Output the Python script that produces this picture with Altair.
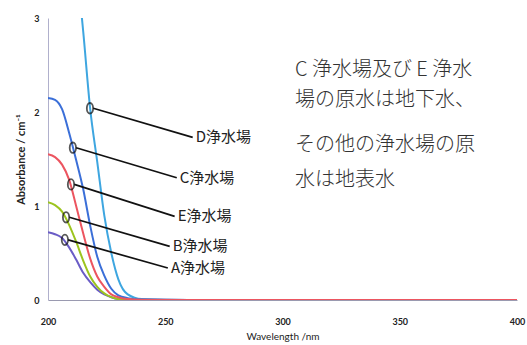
import altair as alt
import pandas as pd

# Absorbance spectra of raw water from five purification plants
wavelength = [200, 203, 206, 209, 212, 215, 218, 221, 224, 227, 230, 234, 240, 260, 300, 350, 400]
abs_A = [0.72, 0.70, 0.66, 0.56, 0.43, 0.29, 0.19, 0.11, 0.06, 0.03, 0.01, 0.003, 0, 0, 0, 0, 0]
abs_B = [1.04, 1.01, 0.94, 0.80, 0.62, 0.42, 0.25, 0.14, 0.07, 0.03, 0.01, 0.003, 0, 0, 0, 0, 0]
abs_C = [2.15, 2.13, 2.03, 1.78, 1.49, 1.18, 0.79, 0.46, 0.26, 0.12, 0.05, 0.02, 0.005, 0, 0, 0, 0]
abs_D = [6.0, 5.4, 4.8, 4.2, 3.6, 2.86, 2.03, 1.47, 0.90, 0.50, 0.22, 0.06, 0.01, 0, 0, 0, 0]
abs_E = [1.55, 1.52, 1.44, 1.28, 1.00, 0.71, 0.44, 0.25, 0.14, 0.06, 0.03, 0.01, 0.003, 0, 0, 0, 0]

plants = ["D浄水場", "C浄水場", "A浄水場", "B浄水場", "E浄水場"]
series = {"A浄水場": abs_A, "B浄水場": abs_B, "C浄水場": abs_C, "D浄水場": abs_D, "E浄水場": abs_E}
colors = ["#3ea6e0", "#3b6fd8", "#6a5cc6", "#9cc41e", "#ec5560"]

# Callout circles on each curve, leader line ends and label positions
call_plants = ["D浄水場", "C浄水場", "E浄水場", "B浄水場", "A浄水場"]
call_x = [217.9, 210.6, 209.8, 207.7, 207.2]
call_y = [2.04, 1.62, 1.23, 0.88, 0.64]
lead_end_x = [261.7, 254.9, 254.0, 251.9, 251.1]
label_x = [263.0, 256.2, 255.3, 253.2, 252.4]
label_y = [1.73, 1.30, 0.89, 0.57, 0.34]

# Note beside the plot
note_lines = ["C 浄水場及び E 浄水", "場の原水は地下水、", "その他の浄水場の原", "水は地表水"]
note_x = [305.3, 305.3, 305.3, 305.3]
note_y = [2.447, 2.128, 1.649, 1.277]

rows = []
for p in plants:
    for i, (w, a) in enumerate(zip(wavelength, series[p])):
        rows.append({"plant": p, "wl": w, "abs": a, "i": i})
spectra = pd.DataFrame(rows)

calls = pd.DataFrame({
    "plant": call_plants, "x": call_x, "y": call_y,
    "x0": [v + 1.4 for v in call_x], "x2": lead_end_x,
    "lx": label_x, "ly": label_y,
})
notes = pd.DataFrame({"t": note_lines, "x": note_x, "y": note_y})

xs = alt.Scale(domain=[200, 400], nice=False, zero=False)
ys = alt.Scale(domain=[0, 3], nice=False)

ellipse = "M0,-1 A0.6,1 0 1,1 0,1 A0.6,1 0 1,1 0,-1 Z"

lines = alt.Chart(spectra).mark_line(
    interpolate="monotone", strokeWidth=2, clip=True
).encode(
    x=alt.X("wl:Q", scale=xs, axis=alt.Axis(
        values=[200, 250, 300, 350, 400], title="Wavelength /nm", format="d",
        ticks=False, labelPadding=17, labelFont="Lato", labelFontWeight="bold",
        labelFontSize=9, labelColor="#222", titleFont="Lato", titleFontSize=10,
        titleFontWeight="normal", titleColor="#222", titlePadding=5,
        domainColor="#9a9ab0", grid=False, labelFlush=False,
    )),
    y=alt.Y("abs:Q", scale=ys, axis=alt.Axis(
        values=[0, 1, 2, 3], title="Absorbance / cm⁻¹", format="d", ticks=False,
        labelPadding=9, labelFont="Lato", labelFontWeight="bold", labelFontSize=9,
        labelColor="#222", titleFont="Lato", titleFontSize=11,
        titleFontWeight="bold", titleColor="#222", titlePadding=7,
        domainColor="#b0b0cc", grid=False,
    )),
    color=alt.Color("plant:N", scale=alt.Scale(domain=plants, range=colors), legend=None),
    order="i:Q",
)

leaders = alt.Chart(calls).mark_rule(color="#111", strokeWidth=1.7).encode(
    x=alt.X("x0:Q", scale=xs), x2="x2:Q",
    y=alt.Y("y:Q", scale=ys), y2="ly:Q",
)

circles = alt.Chart(calls).mark_point(
    shape=ellipse, size=110, filled=False, color="#111", strokeWidth=1.8
).encode(x=alt.X("x:Q", scale=xs), y=alt.Y("y:Q", scale=ys))

labels = alt.Chart(calls).mark_text(
    align="left", baseline="middle", font="Noto Sans CJK JP", fontSize=15, color="#222"
).encode(x=alt.X("lx:Q", scale=xs), y=alt.Y("ly:Q", scale=ys), text="plant:N")

note = alt.Chart(notes).mark_text(
    align="left", baseline="middle", font="Noto Sans CJK JP", fontSize=20,
    fontWeight=300, color="#333"
).encode(x=alt.X("x:Q", scale=xs), y=alt.Y("y:Q", scale=ys), text="t:N")

chart = alt.layer(lines, leaders, circles, labels, note).properties(
    width=469, height=282,
    padding={"left": 48, "top": 18, "right": 10, "bottom": 45},
    autosize=alt.AutoSizeParams(type="none"),
    background="white",
).configure_view(stroke=None)

chart.save("out.html", embed_options={"renderer": "svg", "actions": False})
